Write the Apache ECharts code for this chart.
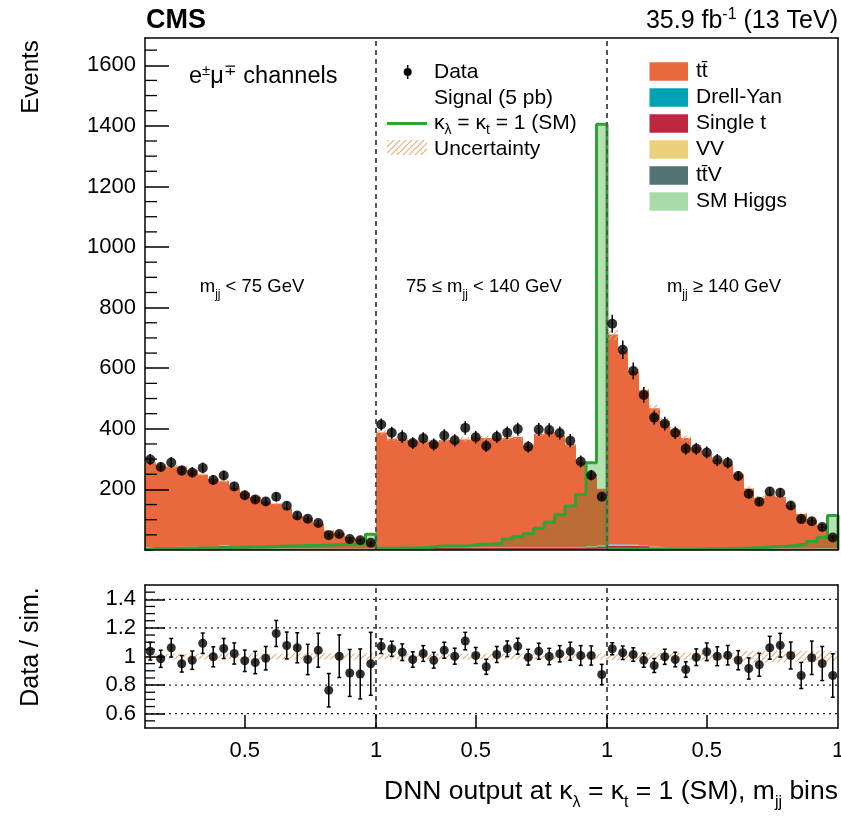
<!DOCTYPE html>
<html><head><meta charset="utf-8">
<script src="https://cdn.jsdelivr.net/npm/echarts@6/dist/echarts.min.js"></script>
<style>html,body{margin:0;padding:0;background:#fff}#c{width:841px;height:816px}</style>
</head><body><div id="c"></div>
<script>
// ---------------- data ----------------
// 3 m_jj regions x 22 DNN bins (DNN output 0.12 .. 1.00, width 0.04)
const xTickPos  = [9.5, 22, 31.5, 44, 53.5, 66];
const xTickText = ['0.5', '1', '0.5', '1', '0.5', '1'];
const regionEdges = [22, 44];
const yMainTicks  = [200, 400, 600, 800, 1000, 1200, 1400, 1600];
const yMainMinor  = [50,100,150,250,300,350,450,500,550,650,700,750,850,900,950,1050,1100,1150,1250,1300,1350,1450,1500,1550,1650];
const ratioTicks  = [0.6, 0.8, 1, 1.2, 1.4];
const ratioMinor  = [0.55,0.65,0.7,0.75,0.85,0.9,0.95,1.05,1.1,1.15,1.25,1.3,1.35,1.45];
const ratioGrid   = [0.6, 0.8, 1.2, 1.4];

const dataR1 = [299,274,289,262,256,271,231,246,210,181,167,160,176,146,114,103,89,49,53,36,32,24];
const dataR2 = [414,387,374,353,369,348,378,362,403,372,343,374,387,399,341,398,396,386,361,292,247,176];
const dataR3 = [747,661,591,512,437,417,387,334,334,322,297,288,244,186,159,193,189,147,102,95,76,41];

// total simulation (stack top)
const mcR1 = [290,279,276,276,264,249,234,227,206,189,175,160,153,138,112,106,87,64,56,42,37,28];
const mcR2 = [388,367,365,362,361,357,363,361,365,371,370,370,370,373,345,384,390,378,348,290,252,203];
const mcR3 = [711,655,590,527,468,425,397,370,338,315,298,285,251,203,172,184,175,148,119,99,82,50];

// small backgrounds (bottom of the stack)
const dyR1 = [2,2,2,2,2,2,2,6,2,2,2,2,1,1,1,1,1,1,1,1,1,1];
const dyR2 = [2,2,2,2,2,2,2,2,2,2,2,2,2,2,2,2,2,2,2,2,3,4];
const dyR3 = [3,3,3,3,2,2,2,2,2,2,2,2,2,1,1,1,1,1,1,1,1,1];
const stR1 = [4,4,4,6,6,4,4,8,4,4,3,3,3,3,2,2,2,2,1,1,1,1];
const stR2 = [5,5,5,5,5,5,5,5,5,5,5,5,5,5,5,5,5,5,5,5,6,7];
const stR3 = [12,12,11,10,6,5,5,5,5,4,4,4,4,3,3,3,3,2,2,2,2,2];
const vvR1 = [1,1,1,1,1,1,1,1,1,1,1,1,1,1,1,1,1,1,1,1,1,1];
const vvR2 = [1,1,1,1,1,1,1,1,1,1,1,1,1,1,1,1,1,1,1,1,1,1];
const vvR3 = [2,2,2,1,1,1,1,1,1,1,1,1,1,1,1,1,1,1,1,1,1,1];
const ttvR1 = [1,1,1,1,1,1,1,1,1,1,1,1,1,1,1,1,1,1,1,1,1,1];
const ttvR2 = [1,1,1,1,1,1,1,1,1,1,1,1,1,1,1,1,1,1,1,1,1,1];
const ttvR3 = [2,2,2,2,1,1,1,1,1,1,1,1,1,1,1,1,1,1,1,1,1,1];
const higR1 = [0.5,0.5,0.5,0.5,0.5,0.5,0.5,0.5,0.5,0.5,0.5,0.5,0.5,0.5,0.5,0.5,0.5,0.5,0.5,0.5,0.5,1];
const higR2 = [0.5,0.5,0.5,0.5,0.5,0.5,0.5,0.5,0.5,0.5,0.5,0.5,0.5,0.5,1,1,1,1,1,1,2,3];
const higR3 = [0.5,0.5,0.5,0.5,0.5,0.5,0.5,0.5,0.5,0.5,0.5,0.5,0.5,0.5,0.5,0.5,0.5,0.5,0.5,0.5,1,1];

// signal kl = kt = 1 (SM), 5 pb
const sigR1 = [5,5,5,6,6,7,7,8,9,10,10,11,12,13,14,15,16,17,18,19,20,52];
const sigR2 = [6,6,7,7,8,12,13,13,14,19,20,22,36,44,54,72,92,116,145,183,288,1405];
const sigR3 = [3,3,3,3,3,4,4,4,4,5,5,5,6,7,8,11,12,15,20,28,42,114];

// relative systematic uncertainty (half width)
const uncR1 = [0.02,0.02,0.02,0.02,0.02,0.02,0.02,0.02,0.02,0.02,0.02,0.02,0.02,0.02,0.022,0.022,0.022,0.022,0.022,0.022,0.022,0.022];
const uncR2 = [0.02,0.02,0.02,0.02,0.02,0.02,0.02,0.02,0.02,0.02,0.02,0.02,0.02,0.02,0.02,0.02,0.02,0.02,0.02,0.02,0.02,0.022];
const uncR3 = [0.025,0.025,0.025,0.025,0.025,0.025,0.025,0.025,0.025,0.025,0.025,0.025,0.03,0.04,0.04,0.04,0.04,0.04,0.04,0.04,0.04,0.04];

// Data / sim. ratio and its error
const ratioR1 = [1.037,0.984,1.061,0.949,0.974,1.093,0.998,1.056,1.021,0.970,0.958,0.988,1.161,1.077,1.061,0.979,1.044,0.764,1.002,0.885,0.878,0.949];
const ratioR2 = [1.072,1.054,1.030,0.979,1.021,0.974,1.044,1.002,1.108,1.007,0.928,1.014,1.054,1.072,0.995,1.037,1.000,1.019,1.037,1.007,1.007,0.874];
const ratioR3 = [1.054,1.026,1.014,0.974,0.937,0.998,0.979,0.909,0.995,1.033,1.002,1.009,0.974,0.916,0.942,1.061,1.079,1.007,0.867,0.991,0.951,0.867];
const rerrR1 = [0.062,0.060,0.065,0.058,0.064,0.071,0.070,0.070,0.074,0.075,0.078,0.082,0.091,0.094,0.105,0.106,0.119,0.117,0.149,0.164,0.175,0.22];
const rerrR2 = [0.051,0.053,0.058,0.054,0.055,0.055,0.056,0.056,0.061,0.056,0.053,0.056,0.055,0.056,0.055,0.056,0.057,0.057,0.063,0.069,0.067,0.071];
const rerrR3 = [0.042,0.047,0.047,0.049,0.049,0.053,0.051,0.054,0.058,0.062,0.066,0.068,0.067,0.074,0.080,0.080,0.083,0.094,0.091,0.117,0.119,0.152];

// ---------------- build ----------------
const cat = (a,b,c) => a.concat(b, c);
const data = cat(dataR1, dataR2, dataR3);
const mc = cat(mcR1, mcR2, mcR3);
const sig = cat(sigR1, sigR2, sigR3);
const unc = cat(uncR1, uncR2, uncR3);
const ratio = cat(ratioR1, ratioR2, ratioR3);
const rerr = cat(rerrR1, rerrR2, rerrR3);
const small = [
  {vals: cat(dyR1, dyR2, dyR3), color: '#00a2b3'},
  {vals: cat(stR1, stR2, stR3), color: '#bf2641'},
  {vals: cat(vvR1, vvR2, vvR3), color: '#ebd17b'},
  {vals: cat(ttvR1, ttvR2, ttvR3), color: '#517373'},
  {vals: cat(higR1, higR2, higR3), color: '#a8dba8'}
];
const NB = data.length;
const FONT = 'Liberation Sans';
const C_TT = '#e9683e', C_SIG = '#2fa336';

function hatchCanvas() {
  const c = document.createElement('canvas'); c.width = 6; c.height = 6;
  const g = c.getContext('2d');
  g.strokeStyle = 'rgba(226,170,115,0.95)'; g.lineWidth = 1.1;
  g.beginPath();
  g.moveTo(-1, 7); g.lineTo(7, -1);
  g.moveTo(-4, 4); g.lineTo(4, -4);
  g.moveTo(2, 10); g.lineTo(10, 2);
  g.stroke();
  return c;
}
const HATCH = {image: hatchCanvas(), repeat: 'repeat'};

const series = [];
function rectSeries(rows, fill, z, gi) {
  series.push({
    type: 'custom', xAxisIndex: gi*2, yAxisIndex: gi*2, z, silent: true, animation: false,
    data: rows, encode: {x: 0, y: [1, 2]},
    renderItem: (p, api) => {
      const a = api.coord([api.value(0), api.value(1)]);
      const b = api.coord([api.value(0) + 1, api.value(2)]);
      const x0 = Math.round(a[0]), x1 = Math.round(b[0]);
      return {type: 'rect', shape: {x: x0, y: Math.min(a[1], b[1]), width: x1 - x0, height: Math.abs(a[1] - b[1])},
              style: {fill}};
    }
  });
}
// stacked backgrounds
let base = new Array(NB).fill(0);
small.forEach(pr => {
  const rows = pr.vals.map((v, i) => [i, base[i], base[i] + v]);
  rectSeries(rows, pr.color, 2, 0);
  base = base.map((b, i) => b + pr.vals[i]);
});
rectSeries(mc.map((v, i) => [i, base[i], v]), C_TT, 2, 0);
// uncertainty bands
rectSeries(mc.map((v, i) => [i, v * (1 - unc[i]), v * (1 + unc[i])]), HATCH, 3, 0);
rectSeries(unc.map((u, i) => [i, 1 - u, 1 + u]), HATCH, 3, 1);

// signal fill (tinted where it overlaps the stack)
series.push({
  type: 'custom', xAxisIndex: 0, yAxisIndex: 0, z: 4, silent: true, animation: false,
  data: sig.map((s, i) => [i, s, mc[i]]), encode: {x: 0, y: 1},
  renderItem: (p, api) => {
    const i = api.value(0), s = api.value(1), m = api.value(2);
    const a = api.coord([i, 0]), b = api.coord([i + 1, Math.min(s, m)]);
    const x0 = Math.round(a[0]), x1 = Math.round(b[0]);
    const ch = [{type: 'rect', shape: {x: x0, y: b[1], width: x1 - x0, height: a[1] - b[1]},
                 style: {fill: 'rgba(95,120,35,0.33)'}}];
    if (s > m) {
      const c = api.coord([i, m]), d = api.coord([i + 1, s]);
      ch.push({type: 'rect', shape: {x: x0, y: d[1], width: x1 - x0, height: c[1] - d[1]},
               style: {fill: '#b4e0b2'}});
    }
    return {type: 'group', children: ch};
  }
});
// signal outline
const sigPts = [[0, 0]];
sig.forEach((s, i) => sigPts.push([i, s]));
sigPts.push([NB, sig[NB - 1]], [NB, 0]);
series.push({type: 'line', xAxisIndex: 0, yAxisIndex: 0, z: 5, step: 'end', symbol: 'none', silent: true,
  animation: false, data: sigPts, lineStyle: {color: C_SIG, width: 3}});

// dashed region boundaries & ratio grid
function vlines(gi, ymin, ymax) {
  series.push({type: 'custom', xAxisIndex: gi*2, yAxisIndex: gi*2, z: 6, silent: true, animation: false,
    data: regionEdges.map(x => [x]), encode: {x: 0},
    renderItem: (p, api) => {
      const a = api.coord([api.value(0), ymin]), b = api.coord([api.value(0), ymax]);
      return {type: 'line', shape: {x1: a[0], y1: a[1], x2: b[0], y2: b[1]},
              style: {stroke: '#555', lineWidth: 2, lineDash: [5, 4]}};
    }});
}
vlines(0, 0, 1690); vlines(1, 0.5, 1.5);
series.push({type: 'custom', xAxisIndex: 2, yAxisIndex: 2, z: 2, silent: true, animation: false,
  data: ratioGrid.map(v => [0, v]), encode: {x: 0, y: 1},
  renderItem: (p, api) => {
    const a = api.coord([0, api.value(1)]), b = api.coord([NB, api.value(1)]);
    return {type: 'line', shape: {x1: a[0], y1: a[1], x2: b[0], y2: b[1]},
            style: {stroke: '#222', lineWidth: 1.3, lineDash: [2, 4]}};
  }});
// minor ticks
function minorTicks(gi, vals, len) {
  series.push({type: 'custom', xAxisIndex: gi*2, yAxisIndex: gi*2, z: 10, silent: true, animation: false,
    data: vals.map(v => [0, v]), encode: {x: 0, y: 1}, clip: false,
    renderItem: (p, api) => {
      const a = api.coord([0, api.value(1)]);
      return {type: 'line', shape: {x1: a[0], y1: a[1], x2: a[0] + len, y2: a[1]},
              style: {stroke: '#000', lineWidth: 1.3}};
    }});
}
minorTicks(0, yMainMinor, 12); minorTicks(1, ratioMinor, 10);

// error bars
function errBars(gi, rows, cap, z) {
  series.push({type: 'custom', xAxisIndex: gi*2, yAxisIndex: gi*2, z, silent: true, animation: false,
    data: rows, encode: {x: 0, y: [1, 2]},
    renderItem: (p, api) => {
      const a = api.coord([api.value(0), api.value(1)]), b = api.coord([api.value(0), api.value(2)]);
      const st = {stroke: '#000', lineWidth: 1.5};
      const ch = [{type: 'line', shape: {x1: a[0], y1: a[1], x2: b[0], y2: b[1]}, style: st}];
      if (cap) {
        ch.push({type: 'line', shape: {x1: a[0] - cap, y1: a[1], x2: a[0] + cap, y2: a[1]}, style: st});
        ch.push({type: 'line', shape: {x1: b[0] - cap, y1: b[1], x2: b[0] + cap, y2: b[1]}, style: st});
      }
      return {type: 'group', children: ch};
    }});
}
errBars(0, data.map((v, i) => [i + 0.5, v - rerr[i] * mc[i], v + rerr[i] * mc[i]]), 0, 7);
errBars(1, ratio.map((r, i) => [i + 0.5, r - rerr[i], r + rerr[i]]), 2, 7);
series.push({type: 'scatter', xAxisIndex: 0, yAxisIndex: 0, z: 8, silent: true, animation: false,
  data: data.map((v, i) => [i + 0.5, v]), symbolSize: 10, itemStyle: {color: '#000'}});
series.push({type: 'scatter', xAxisIndex: 2, yAxisIndex: 2, z: 8, silent: true, animation: false,
  data: ratio.map((r, i) => [i + 0.5, r]), symbolSize: 9, itemStyle: {color: '#000'}});

// ---------------- axes ----------------
const line = {show: true, onZero: false, lineStyle: {color: '#000', width: 1.5}};
const lab = {fontFamily: FONT, fontSize: 22, color: '#000'};
function xAx(gi, pos, withTicks) {
  return {gridIndex: gi, type: 'value', min: 0, max: NB, position: pos, z: 10,
    axisLine: line, splitLine: {show: false},
    axisTick: withTicks ? {show: true, inside: true, length: 13, customValues: xTickPos.slice(0, 5),
      lineStyle: {color: '#000', width: 1.5}} : {show: false},
    axisLabel: withTicks ? Object.assign({show: true, customValues: xTickPos, margin: 12,
      formatter: v => xTickText[xTickPos.indexOf(v)]}, lab) : {show: false}};
}
function yAx(gi, pos, min, max, ticks, tlen, main) {
  return {gridIndex: gi, type: 'value', min, max, position: pos, z: 10,
    axisLine: line, splitLine: {show: false},
    axisTick: main ? {show: true, inside: true, length: tlen, customValues: ticks,
      lineStyle: {color: '#000', width: 1.5}} : {show: false},
    axisLabel: main ? Object.assign({show: true, customValues: ticks, margin: 9,
      formatter: v => String(v)}, lab) : {show: false}};
}

// ---------------- texts & legend ----------------
const g = [];
function T(x, y, text, size, opt) {
  opt = opt || {};
  g.push({type: 'text', x, y, rotation: opt.rot || 0, z: 100, silent: true,
    style: {text, fill: '#000', fontFamily: FONT, fontSize: size, fontWeight: opt.bold ? 'bold' : 'normal',
      align: opt.align || 'left', verticalAlign: 'middle', textAlign: opt.align || 'left', textVerticalAlign: 'middle',
      rich: opt.rich}});
}
function richSet(size, lh, sub) {
  return {
    n: {fontFamily: FONT, fontSize: size, lineHeight: lh, fill: '#000'},
    s: {fontFamily: FONT, fontSize: sub, lineHeight: lh, verticalAlign: 'bottom', fill: '#000'},
    u: {fontFamily: FONT, fontSize: sub, lineHeight: lh, verticalAlign: 'top', fill: '#000'}
  };
}
T(146, 21, 'CMS', 27, {bold: true});
T(838, 21, '{n|35.9 fb}{u|-1}{n| (13 TeV)}', 25, {align: 'right', rich: richSet(25, 28, 16)});
T(31, 77, 'Events', 24, {rot: Math.PI / 2, align: 'center'});
T(31, 647, 'Data / sim.', 25, {rot: Math.PI / 2, align: 'center'});
T(838, 792, '{n|DNN output at κ}{s|λ}{n| = κ}{s|t}{n| = 1 (SM), m}{s|jj}{n| bins}', 26.5,
  {align: 'right', rich: richSet(26.5, 38, 16)});
T(189, 77, '{n|e}{u|±}{n|μ}{u|∓}{n| channels}', 23.5, {rich: richSet(23.5, 28, 15)});
T(252, 287, '{n|m}{s|jj}{n| < 75 GeV}', 18.5, {align: 'center', rich: richSet(18.5, 28, 12)});
T(484, 287, '{n|75 ≤ m}{s|jj}{n| < 140 GeV}', 18.5, {align: 'center', rich: richSet(18.5, 28, 12)});
T(724, 287, '{n|m}{s|jj}{n| ≥ 140 GeV}', 18.5, {align: 'center', rich: richSet(18.5, 28, 12)});

// left legend
g.push({type: 'line', z: 100, shape: {x1: 407.7, y1: 65, x2: 407.7, y2: 79}, style: {stroke: '#000', lineWidth: 1.5}});
g.push({type: 'circle', z: 100, shape: {cx: 407.7, cy: 72, r: 4}, style: {fill: '#000'}});
T(434, 72, 'Data', 21);
T(434, 98, 'Signal (5 pb)', 21);
g.push({type: 'line', z: 100, shape: {x1: 387, y1: 123.5, x2: 427, y2: 123.5}, style: {stroke: C_SIG, lineWidth: 3}});
T(434, 123, '{n|κ}{s|λ}{n| = κ}{s|t}{n| = 1 (SM)}', 21, {rich: richSet(21, 28, 14)});
g.push({type: 'rect', z: 100, shape: {x: 387, y: 140, width: 40, height: 15}, style: {fill: HATCH}});
T(434, 149, 'Uncertainty', 21);

// right legend
const legNames = ['tt\u0304', 'Drell-Yan', 'Single t', 'VV', 'tt\u0304V', 'SM Higgs'];
const legColors = [C_TT, '#00a2b3', '#bf2641', '#ebd17b', '#517373', '#a8dba8'];
legNames.forEach((nm, k) => {
  const cy = 71.5 + 26 * k;
  g.push({type: 'rect', z: 100, shape: {x: 649.5, y: cy - 9.2, width: 38.5, height: 18.4}, style: {fill: legColors[k]}});
  T(696, cy, nm, 21);
});

const chart = echarts.init(document.getElementById('c'), null, {renderer: 'canvas'});
chart.setOption({
  animation: false,
  backgroundColor: '#fff',
  grid: [
    {left: 145, top: 38, width: 693, height: 512, outerBoundsMode: 'none', containLabel: false},
    {left: 145, top: 585, width: 693, height: 143, outerBoundsMode: 'none', containLabel: false}
  ],
  xAxis: [xAx(0, 'bottom', false), xAx(0, 'top', false), xAx(1, 'bottom', true), xAx(1, 'top', false)],
  yAxis: [
    yAx(0, 'left', 0, 1690, yMainTicks, 24, true), yAx(0, 'right', 0, 1690, [], 0, false),
    yAx(1, 'left', 0.5, 1.5, ratioTicks, 20, true), yAx(1, 'right', 0.5, 1.5, [], 0, false)
  ],
  series,
  graphic: g
});
</script></body></html>
